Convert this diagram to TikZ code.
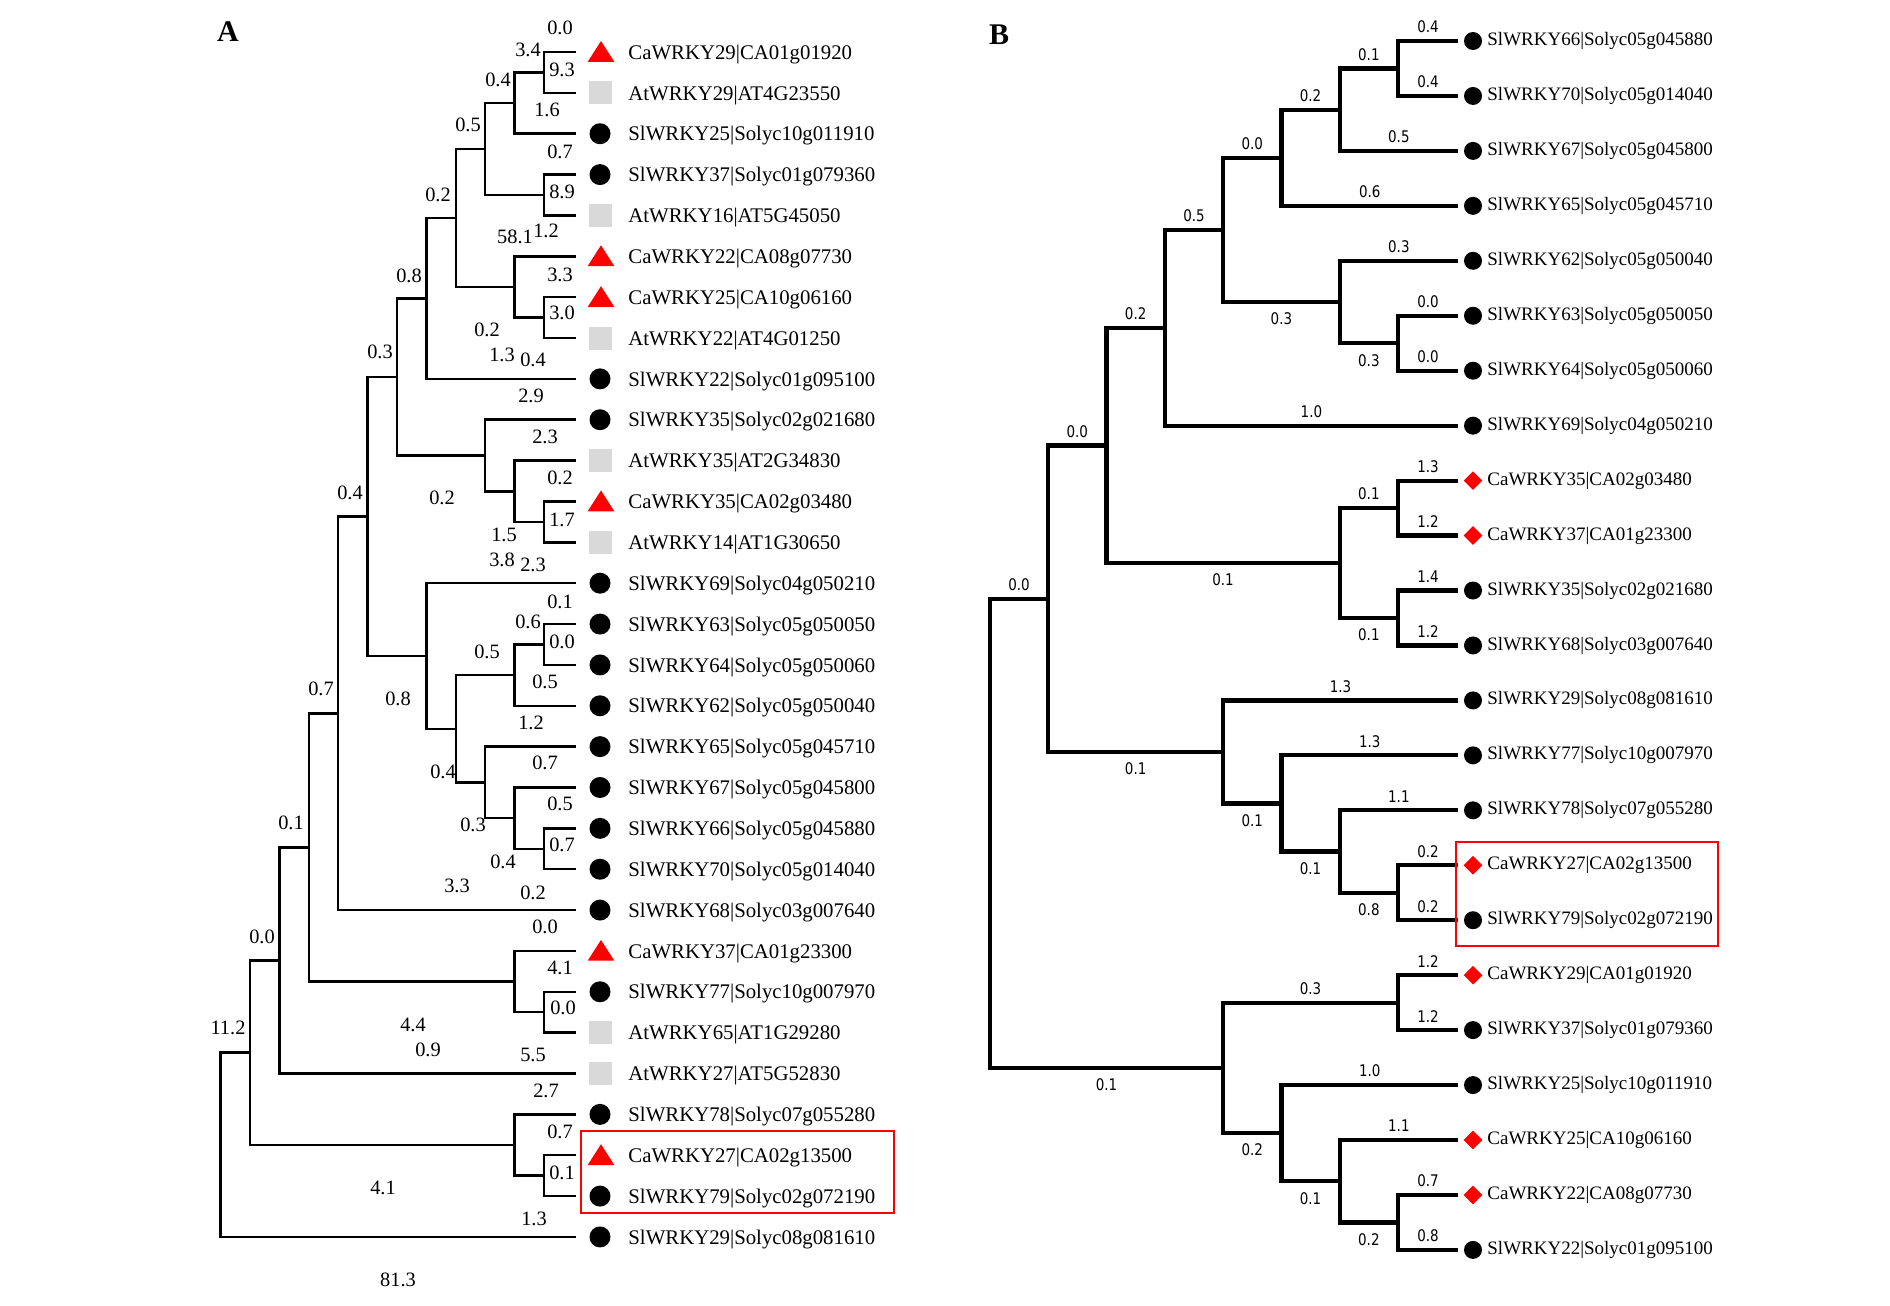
\documentclass[tikz,border=0pt]{standalone}
\usepackage{fontspec}
\setmainfont{Liberation Serif}
\newfontfamily\bnumfont[FakeStretch=0.84]{DejaVu Sans}
\usetikzlibrary{shapes.geometric}
\definecolor{cred}{RGB}{255,0,0}
\definecolor{sqgray}{RGB}{217,217,217}
\newcommand\mkAc[2]{\node[dotA] (m#1) at (600,#2) {};}
\newcommand\mkAs[2]{\node[sqA] (m#1) at (600.5,#2) {};}
\newcommand\mkAt[2]{\coordinate (m#1) at (601,#2); \fill[cred] (m#1) +(0,-11) -- +(13.3,9.8) -- +(-13.3,9.8) -- cycle;}
\newcommand\mkBc[2]{\node[dotB] (m#1) at (1473,#2) {};}
\newcommand\mkBd[2]{\node[dmB] (m#1) at (1473,#2) {};}
\newcommand\edA[2]{\draw[brA] (#1) |- (#2);}
\begin{document}
\begin{tikzpicture}[x=0.5pt,y=-0.5pt,line join=miter,
  brA/.style={line width=1.25pt},
  brB/.style={line width=2.1pt},
  lblA/.style={anchor=west, inner sep=0, yshift=-1.1pt, font=\fontsize{10.4}{12}\selectfont},
  lblB/.style={anchor=west, inner sep=0, font=\fontsize{9.5}{11}\selectfont},
  numA/.style={inner sep=0, font=\fontsize{10.2}{12}\selectfont},
  numB/.style={inner sep=0, font=\bnumfont\fontsize{8}{10}\selectfont},
  ab/.style={numB, pos=0.75, yshift=7pt},
  bl/.style={numB, pos=0.75, yshift=-8.5pt},
  dotA/.style={circle, fill=black, inner sep=0, minimum size=10.5pt},
  sqA/.style={rectangle, fill=sqgray, inner sep=0, minimum size=11.5pt},
  dotB/.style={circle, fill=black, inner sep=0, minimum size=9pt},
  dmB/.style={diamond, fill=cred, inner sep=0, minimum width=9.5pt, minimum height=9.5pt},
  panel/.style={font=\fontsize{15}{18}\selectfont\bfseries, inner sep=0},
  redbox/.style={draw=cred, line width=1.3pt}]
\fill[white] (0,0) rectangle (1890,1306);
\useasboundingbox (0,0) rectangle (1890,1306);

\node[panel] (pA) at (228,32) {A};
\node[panel] (pB) at (999,35) {B};

% ---------------- Panel A leaves ----------------
\foreach \i/\m/\t in {1/t/CaWRKY29|CA01g01920, 2/s/AtWRKY29|AT4G23550, 3/c/SlWRKY25|Solyc10g011910,
  4/c/SlWRKY37|Solyc01g079360, 5/s/AtWRKY16|AT5G45050, 6/t/CaWRKY22|CA08g07730,
  7/t/CaWRKY25|CA10g06160, 8/s/AtWRKY22|AT4G01250, 9/c/SlWRKY22|Solyc01g095100,
  10/c/SlWRKY35|Solyc02g021680, 11/s/AtWRKY35|AT2G34830, 12/t/CaWRKY35|CA02g03480,
  13/s/AtWRKY14|AT1G30650, 14/c/SlWRKY69|Solyc04g050210, 15/c/SlWRKY63|Solyc05g050050,
  16/c/SlWRKY64|Solyc05g050060, 17/c/SlWRKY62|Solyc05g050040, 18/c/SlWRKY65|Solyc05g045710,
  19/c/SlWRKY67|Solyc05g045800, 20/c/SlWRKY66|Solyc05g045880, 21/c/SlWRKY70|Solyc05g014040,
  22/c/SlWRKY68|Solyc03g007640, 23/t/CaWRKY37|CA01g23300, 24/c/SlWRKY77|Solyc10g007970,
  25/s/AtWRKY65|AT1G29280, 26/s/AtWRKY27|AT5G52830, 27/c/SlWRKY78|Solyc07g055280,
  28/t/CaWRKY27|CA02g13500, 29/c/SlWRKY79|Solyc02g072190, 30/c/SlWRKY29|Solyc08g081610}{
  \pgfmathsetmacro\yy{52+(\i-1)*40.86}
  \coordinate (lA\i) at (576,\yy);
  \node[lblA] (tA\i) at (628,\yy) {\t};
  \csname mkA\m\endcsname{A\i}{\yy}
}

% ---------------- Panel A internal nodes ----------------
\coordinate (a12) at (544,72.43);
\coordinate (a123) at (514.6,103.08);
\coordinate (a45) at (544,195.01);
\coordinate (a1to5) at (485.2,149.05);
\coordinate (a78) at (544,317.59);
\coordinate (a678) at (514.6,286.95);
\coordinate (a1to8) at (455.8,218.0);
\coordinate (a1to9) at (426.4,298.44);
\coordinate (a1213) at (544,521.89);
\coordinate (a11to13) at (514.6,491.25);
\coordinate (a10to13) at (485.2,455.5);
\coordinate (a1to13) at (397.0,376.97);
\coordinate (a1516) at (544,644.47);
\coordinate (a15to17) at (514.6,675.12);
\coordinate (a2021) at (544,848.77);
\coordinate (a19to21) at (514.6,818.13);
\coordinate (a18to21) at (485.2,782.38);
\coordinate (a15to21) at (455.8,728.75);
\coordinate (a14to21) at (426.4,655.97);
\coordinate (a1to21) at (367.6,516.47);
\coordinate (a1to22) at (338.2,713.27);
\coordinate (a2425) at (544,1012.21);
\coordinate (a23to25) at (514.6,981.57);
\coordinate (a1to25) at (308.8,847.42);
\coordinate (a1to26) at (279.4,960.46);
\coordinate (a2829) at (544,1175.65);
\coordinate (a27to29) at (514.6,1145.0);
\coordinate (a1to29) at (250.0,1052.73);
\coordinate (rA) at (220.6,1144.84);

\edA{a12}{lA1} \edA{a12}{lA2}
\edA{a123}{a12} \edA{a123}{lA3}
\edA{a45}{lA4} \edA{a45}{lA5}
\edA{a1to5}{a123} \edA{a1to5}{a45}
\edA{a78}{lA7} \edA{a78}{lA8}
\edA{a678}{lA6} \edA{a678}{a78}
\edA{a1to8}{a1to5} \edA{a1to8}{a678}
\edA{a1to9}{a1to8} \edA{a1to9}{lA9}
\edA{a1213}{lA12} \edA{a1213}{lA13}
\edA{a11to13}{lA11} \edA{a11to13}{a1213}
\edA{a10to13}{lA10} \edA{a10to13}{a11to13}
\edA{a1to13}{a1to9} \edA{a1to13}{a10to13}
\edA{a1516}{lA15} \edA{a1516}{lA16}
\edA{a15to17}{a1516} \edA{a15to17}{lA17}
\edA{a2021}{lA20} \edA{a2021}{lA21}
\edA{a19to21}{lA19} \edA{a19to21}{a2021}
\edA{a18to21}{lA18} \edA{a18to21}{a19to21}
\edA{a15to21}{a15to17} \edA{a15to21}{a18to21}
\edA{a14to21}{lA14} \edA{a14to21}{a15to21}
\edA{a1to21}{a1to13} \edA{a1to21}{a14to21}
\edA{a1to22}{a1to21} \edA{a1to22}{lA22}
\edA{a2425}{lA24} \edA{a2425}{lA25}
\edA{a23to25}{lA23} \edA{a23to25}{a2425}
\edA{a1to25}{a1to22} \edA{a1to25}{a23to25}
\edA{a1to26}{a1to25} \edA{a1to26}{lA26}
\edA{a2829}{lA28} \edA{a2829}{lA29}
\edA{a27to29}{lA27} \edA{a27to29}{a2829}
\edA{a1to29}{a1to26} \edA{a1to29}{a27to29}
\edA{rA}{a1to29} \edA{rA}{lA30}

% Panel A branch numbers
\foreach \x/\y/\t [count=\k] in {560/28/0.0, 528/50/3.4, 562/70/9.3, 498/80/0.4, 547/110/1.6,
  468/125/0.5, 560/152/0.7, 562/192/8.9, 438/195/0.2, 515/237/58.1, 546/231/1.2, 560/275/3.3,
  409/276/0.8, 562/313/3.0, 487/330/0.2, 502/355/1.3, 533/360/0.4, 380/352/0.3, 531/396/2.9,
  545/437/2.3, 560/478/0.2, 350/493/0.4, 442/498/0.2, 562/520/1.7, 504/535/1.5, 502/560/3.8,
  533/565/2.3, 560/602/0.1, 528/622/0.6, 562/642/0.0, 487/652/0.5, 545/682/0.5, 321/689/0.7,
  398/699/0.8, 531/723/1.2, 545/763/0.7, 443/772/0.4, 560/804/0.5, 291/823/0.1, 473/825/0.3,
  562/845/0.7, 503/862/0.4, 457/886/3.3, 533/893/0.2, 545/927/0.0, 262/937/0.0, 560/968/4.1,
  563/1008/0.0, 413/1025/4.4, 228/1028/11.2, 428/1050/0.9, 533/1055/5.5, 546/1091/2.7,
  560/1132/0.7, 562/1173/0.1, 383/1188/4.1, 534/1219/1.3, 398/1280/81.3}{
  \node[numA] (nA\k) at (\x,\y) {\t};
}

\draw[redbox] (581,1131) rectangle (894,1213);

% ---------------- Panel B leaves ----------------
\foreach \i/\m/\t in {1/c/SlWRKY66|Solyc05g045880, 2/c/SlWRKY70|Solyc05g014040,
  3/c/SlWRKY67|Solyc05g045800, 4/c/SlWRKY65|Solyc05g045710, 5/c/SlWRKY62|Solyc05g050040,
  6/c/SlWRKY63|Solyc05g050050, 7/c/SlWRKY64|Solyc05g050060, 8/c/SlWRKY69|Solyc04g050210,
  9/d/CaWRKY35|CA02g03480, 10/d/CaWRKY37|CA01g23300, 11/c/SlWRKY35|Solyc02g021680,
  12/c/SlWRKY68|Solyc03g007640, 13/c/SlWRKY29|Solyc08g081610, 14/c/SlWRKY77|Solyc10g007970,
  15/c/SlWRKY78|Solyc07g055280, 16/d/CaWRKY27|CA02g13500, 17/c/SlWRKY79|Solyc02g072190,
  18/d/CaWRKY29|CA01g01920, 19/c/SlWRKY37|Solyc01g079360, 20/c/SlWRKY25|Solyc10g011910,
  21/d/CaWRKY25|CA10g06160, 22/d/CaWRKY22|CA08g07730, 23/c/SlWRKY22|Solyc01g095100}{
  \pgfmathsetmacro\yy{41+(\i-1)*54.95}
  \coordinate (lB\i) at (1458,\yy);
  \node[lblB] (tB\i) at (1487,\yy) {\t};
  \csname mkB\m\endcsname{B\i}{\yy}
}

% ---------------- Panel B internal nodes ----------------
\coordinate (b12) at (1398,68.48);
\coordinate (b123) at (1339.7,109.69);
\coordinate (b1to4) at (1281.4,157.77);
\coordinate (b67) at (1398,343.23);
\coordinate (b5to7) at (1339.7,302.01);
\coordinate (b1to7) at (1223.1,229.89);
\coordinate (b1to8) at (1164.8,327.77);
\coordinate (b910) at (1398,508.08);
\coordinate (b1112) at (1398,617.98);
\coordinate (b9to12) at (1339.7,563.03);
\coordinate (b1to12) at (1106.5,445.4);
\coordinate (b1617) at (1398,892.73);
\coordinate (b15to17) at (1339.7,851.51);
\coordinate (b14to17) at (1281.4,803.43);
\coordinate (b13to17) at (1223.1,751.92);
\coordinate (b1to17) at (1048.2,598.66);
\coordinate (b1819) at (1398,1002.63);
\coordinate (b2223) at (1398,1222.43);
\coordinate (b21to23) at (1339.7,1181.21);
\coordinate (b20to23) at (1281.4,1133.13);
\coordinate (b18to23) at (1223.1,1067.88);
\coordinate (rB) at (989.9,833.27);

\draw[brB] (b12) |- (lB1) node[ab] {0.4};
\draw[brB] (b12) |- (lB2) node[ab] {0.4};
\draw[brB] (b123) |- (b12) node[ab] {0.1};
\draw[brB] (b123) |- (lB3) node[ab] {0.5};
\draw[brB] (b1to4) |- (b123) node[ab] {0.2};
\draw[brB] (b1to4) |- (lB4) node[ab] {0.6};
\draw[brB] (b67) |- (lB6) node[ab] {0.0};
\draw[brB] (b67) |- (lB7) node[ab] {0.0};
\draw[brB] (b5to7) |- (lB5) node[ab] {0.3};
\draw[brB] (b5to7) |- (b67) node[bl] {0.3};
\draw[brB] (b1to7) |- (b1to4) node[ab] {0.0};
\draw[brB] (b1to7) |- (b5to7) node[bl] {0.3};
\draw[brB] (b1to8) |- (b1to7) node[ab] {0.5};
\draw[brB] (b1to8) |- (lB8) node[ab] {1.0};
\draw[brB] (b910) |- (lB9) node[ab] {1.3};
\draw[brB] (b910) |- (lB10) node[ab] {1.2};
\draw[brB] (b1112) |- (lB11) node[ab] {1.4};
\draw[brB] (b1112) |- (lB12) node[ab] {1.2};
\draw[brB] (b9to12) |- (b910) node[ab] {0.1};
\draw[brB] (b9to12) |- (b1112) node[bl] {0.1};
\draw[brB] (b1to12) |- (b1to8) node[ab] {0.2};
\draw[brB] (b1to12) |- (b9to12) node[bl] {0.1};
\draw[brB] (b1617) |- (lB16) node[ab] {0.2};
\draw[brB] (b1617) |- (lB17) node[ab] {0.2};
\draw[brB] (b15to17) |- (lB15) node[ab] {1.1};
\draw[brB] (b15to17) |- (b1617) node[bl] {0.8};
\draw[brB] (b14to17) |- (lB14) node[ab] {1.3};
\draw[brB] (b14to17) |- (b15to17) node[bl] {0.1};
\draw[brB] (b13to17) |- (lB13) node[ab] {1.3};
\draw[brB] (b13to17) |- (b14to17) node[bl] {0.1};
\draw[brB] (b1to17) |- (b1to12) node[ab] {0.0};
\draw[brB] (b1to17) |- (b13to17) node[bl] {0.1};
\draw[brB] (b1819) |- (lB18) node[ab] {1.2};
\draw[brB] (b1819) |- (lB19) node[ab] {1.2};
\draw[brB] (b2223) |- (lB22) node[ab] {0.7};
\draw[brB] (b2223) |- (lB23) node[ab] {0.8};
\draw[brB] (b21to23) |- (lB21) node[ab] {1.1};
\draw[brB] (b21to23) |- (b2223) node[bl] {0.2};
\draw[brB] (b20to23) |- (lB20) node[ab] {1.0};
\draw[brB] (b20to23) |- (b21to23) node[bl] {0.1};
\draw[brB] (b18to23) |- (b1819) node[ab] {0.3};
\draw[brB] (b18to23) |- (b20to23) node[bl] {0.2};
\draw[brB] (rB) |- (b1to17) node[ab] {0.0};
\draw[brB] (rB) |- (b18to23) node[bl] {0.1};

\draw[redbox] (1456,842) rectangle (1718,946);
\end{tikzpicture}
\end{document}
